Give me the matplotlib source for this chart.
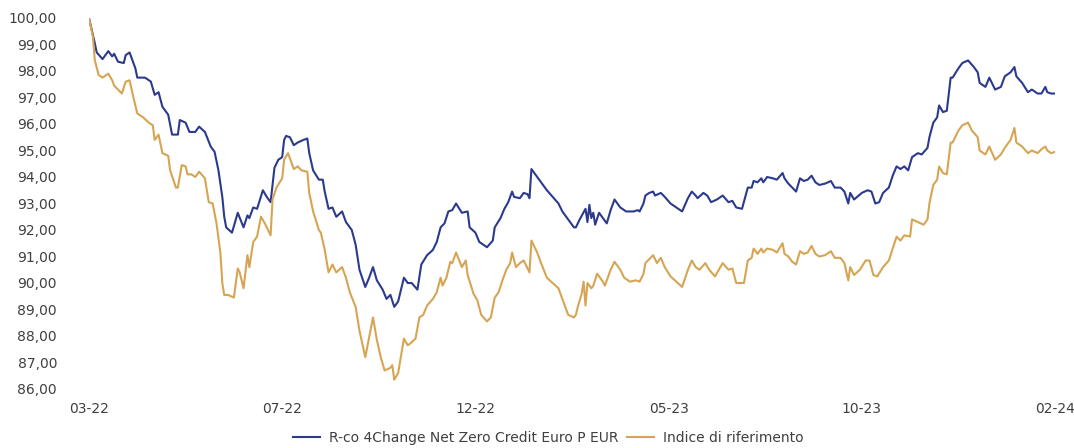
import matplotlib
matplotlib.use("Agg")
from matplotlib import pyplot as plt
from matplotlib.ticker import FuncFormatter

# session index (0 = first day, 500 = last day) and base-100 values
fund_t = [0, 3, 4, 7, 10, 12, 13, 15, 18, 19, 21, 24, 25, 29, 32, 34, 36, 38, 41, 43,
          46, 47, 50, 52, 55, 57, 60, 63, 65, 67, 69, 70, 71, 74, 77, 80, 82, 83, 85, 87,
          90, 92, 94, 96, 98, 100, 101, 102, 104, 106, 108, 111, 113, 114, 116, 119, 121, 122, 124, 126,
          128, 131, 133, 136, 138, 140, 143, 145, 147, 149, 152, 154, 156, 158, 160, 163, 165, 167, 170, 172,
          175, 178, 180, 182, 184, 186, 188, 190, 193, 196, 197, 200, 202, 206, 209, 210, 213, 215, 217, 219,
          220, 223, 225, 227, 228, 229, 232, 234, 237, 240, 243, 245, 248, 251, 252, 254, 257, 258, 259, 260,
          261, 262, 264, 266, 268, 270, 272, 275, 278, 282, 284, 285, 287, 288, 290, 292, 293, 296, 298, 301,
          304, 307, 310, 312, 314, 315, 318, 320, 322, 325, 328, 331, 333, 335, 338, 341, 343, 344, 346, 348,
          349, 351, 354, 356, 359, 360, 362, 364, 366, 368, 370, 372, 374, 376, 378, 381, 384, 386, 389, 391,
          393, 394, 396, 400, 403, 405, 407, 409, 411, 414, 416, 418, 420, 422, 424, 426, 429, 431, 434, 435,
          437, 439, 440, 442, 444, 446, 447, 450, 452, 455, 458, 460, 461, 464, 466, 469, 472, 474, 477, 479,
          480, 483, 486, 488, 491, 493, 495, 496, 498, 500]
fund = [100.0, 99.05, 98.7, 98.45, 98.75, 98.55, 98.65, 98.35, 98.3, 98.6, 98.7, 98.1, 97.75, 97.75, 97.6, 97.1, 97.2, 96.65, 96.35, 95.6,
        95.6, 96.15, 96.05, 95.7, 95.7, 95.9, 95.7, 95.15, 94.95, 94.25, 93.25, 92.5, 92.1, 91.9, 92.65, 92.1, 92.55, 92.45, 92.85, 92.8,
        93.5, 93.25, 93.05, 94.35, 94.65, 94.75, 95.4, 95.55, 95.5, 95.2, 95.3, 95.4, 95.45, 94.9, 94.25, 93.9, 93.9, 93.45, 92.8, 92.85,
        92.5, 92.7, 92.3, 92.0, 91.45, 90.5, 89.85, 90.2, 90.6, 90.1, 89.75, 89.4, 89.55, 89.1, 89.3, 90.2, 90.0, 90.0, 89.75, 90.7,
        91.05, 91.25, 91.55, 92.1, 92.25, 92.7, 92.75, 93.0, 92.65, 92.7, 92.1, 91.9, 91.55, 91.35, 91.6, 92.1, 92.45, 92.8, 93.05, 93.45,
        93.25, 93.2, 93.4, 93.35, 93.2, 94.3, 94.0, 93.8, 93.5, 93.25, 93.0, 92.7, 92.4, 92.1, 92.1, 92.4, 92.8, 92.3, 92.95, 92.45,
        92.65, 92.2, 92.65, 92.45, 92.25, 92.75, 93.15, 92.85, 92.7, 92.7, 92.75, 92.7, 93.0, 93.3, 93.4, 93.45, 93.3, 93.4, 93.25, 93.0,
        92.85, 92.7, 93.2, 93.45, 93.3, 93.2, 93.4, 93.3, 93.05, 93.15, 93.3, 93.05, 93.1, 92.85, 92.8, 93.6, 93.6, 93.85, 93.8, 93.95,
        93.8, 94.0, 93.95, 93.9, 94.15, 93.95, 93.75, 93.6, 93.45, 93.95, 93.85, 93.9, 94.05, 93.8, 93.7, 93.75, 93.85, 93.6, 93.6, 93.45,
        93.0, 93.4, 93.15, 93.4, 93.5, 93.45, 93.0, 93.05, 93.4, 93.6, 94.05, 94.4, 94.3, 94.4, 94.25, 94.75, 94.9, 94.85, 95.1, 95.5,
        96.05, 96.25, 96.7, 96.45, 96.5, 97.75, 97.75, 98.1, 98.3, 98.4, 98.15, 97.95, 97.55, 97.4, 97.75, 97.3, 97.4, 97.8, 97.95, 98.15,
        97.8, 97.55, 97.2, 97.3, 97.15, 97.15, 97.4, 97.2, 97.15, 97.15]

bench_t = [0, 2, 3, 5, 7, 10, 12, 13, 15, 17, 19, 21, 23, 25, 28, 31, 33, 34, 36, 38,
           41, 42, 45, 46, 48, 50, 51, 53, 55, 57, 60, 62, 64, 66, 68, 69, 70, 72, 75, 77,
           78, 80, 82, 83, 85, 87, 89, 91, 94, 95, 97, 100, 101, 103, 105, 106, 108, 110, 113, 114,
           116, 119, 120, 122, 124, 126, 128, 131, 133, 135, 138, 140, 143, 145, 147, 149, 151, 153, 156, 157,
           158, 160, 163, 165, 166, 169, 171, 173, 175, 178, 180, 182, 183, 185, 187, 188, 190, 193, 195, 196,
           199, 201, 203, 206, 208, 210, 212, 214, 216, 218, 219, 221, 223, 225, 227, 228, 229, 232, 234, 237,
           240, 243, 245, 248, 251, 252, 253, 255, 256, 257, 258, 260, 261, 263, 266, 267, 270, 272, 275, 277,
           280, 283, 285, 287, 288, 290, 292, 294, 296, 298, 301, 304, 307, 310, 312, 314, 316, 319, 321, 324,
           326, 328, 331, 333, 335, 339, 341, 343, 344, 346, 348, 349, 351, 354, 356, 359, 360, 362, 364, 366,
           368, 370, 372, 374, 376, 378, 381, 384, 386, 389, 391, 393, 394, 396, 399, 402, 404, 406, 408, 411,
           414, 416, 418, 420, 422, 425, 426, 429, 432, 434, 435, 437, 439, 440, 442, 444, 446, 447, 450, 452,
           455, 457, 460, 461, 464, 466, 469, 472, 474, 477, 479, 480, 483, 486, 488, 491, 493, 495, 496, 498, 500]
bench = [100.0, 99.3, 98.4, 97.85, 97.75, 97.9, 97.65, 97.45, 97.3, 97.15, 97.6, 97.65, 97.0, 96.4, 96.25, 96.05, 95.95, 95.4, 95.6, 94.9,
         94.8, 94.25, 93.6, 93.6, 94.45, 94.4, 94.1, 94.1, 94.0, 94.2, 93.95, 93.05, 93.0, 92.25, 91.15, 90.0, 89.55, 89.55, 89.45, 90.55,
         90.4, 89.8, 91.05, 90.6, 91.55, 91.75, 92.5, 92.25, 91.8, 93.15, 93.6, 93.95, 94.65, 94.9, 94.5, 94.3, 94.4, 94.25, 94.2, 93.4,
         92.7, 92.0, 91.9, 91.25, 90.4, 90.7, 90.4, 90.6, 90.2, 89.65, 89.1, 88.2, 87.2, 87.95, 88.7, 87.85, 87.2, 86.7, 86.8, 86.9,
         86.35, 86.6, 87.9, 87.65, 87.7, 87.9, 88.7, 88.8, 89.15, 89.4, 89.65, 90.2, 89.9, 90.2, 90.8, 90.75, 91.15, 90.6, 90.85, 90.3,
         89.6, 89.35, 88.8, 88.55, 88.7, 89.45, 89.65, 90.1, 90.5, 90.75, 91.15, 90.6, 90.75, 90.85, 90.55, 90.4, 91.6, 91.15, 90.75, 90.2,
         90.0, 89.8, 89.4, 88.8, 88.7, 88.8, 89.1, 89.6, 90.05, 89.15, 90.0, 89.8, 89.9, 90.35, 90.05, 89.9, 90.5, 90.8, 90.5, 90.2,
         90.05, 90.1, 90.05, 90.35, 90.75, 90.9, 91.05, 90.75, 90.95, 90.6, 90.25, 90.05, 89.85, 90.5, 90.85, 90.6, 90.5, 90.75, 90.5, 90.25,
         90.5, 90.75, 90.5, 90.55, 90.0, 90.0, 90.85, 90.95, 91.3, 91.1, 91.3, 91.15, 91.3, 91.25, 91.15, 91.5, 91.1, 91.0, 90.8, 90.7,
         91.2, 91.1, 91.15, 91.4, 91.1, 91.0, 91.05, 91.2, 90.95, 90.95, 90.75, 90.1, 90.6, 90.3, 90.5, 90.85, 90.85, 90.3, 90.25, 90.6,
         90.85, 91.3, 91.75, 91.6, 91.8, 91.75, 92.4, 92.3, 92.2, 92.4, 93.0, 93.7, 93.9, 94.4, 94.15, 94.1, 95.3, 95.3, 95.75, 95.95,
         96.05, 95.75, 95.5, 95.0, 94.85, 95.15, 94.65, 94.85, 95.1, 95.4, 95.85, 95.3, 95.15, 94.9, 95.0, 94.9, 95.05, 95.15, 95.0, 94.9, 94.95]

tick_pos = [0, 100, 200, 300, 400, 500]
tick_labels = ['03-22', '07-22', '12-22', '05-23', '10-23', '02-24']
y_ticks = list(range(86, 101))

fund_name = 'R-co 4Change Net Zero Credit Euro P EUR'
bench_name = 'Indice di riferimento'
blue = '#2b3a8c'
gold = '#d6a553'
txt = '#404040'

fig = plt.figure(figsize=(10.74, 4.48), dpi=100)
ax = fig.add_axes([89 / 1074, 59 / 448, 966 / 1074, 371 / 448])

ax.plot(fund_t, fund, color=blue, lw=1.5, label=fund_name)
ax.plot(bench_t, bench, color=gold, lw=1.5, label=bench_name)

ax.set_xlim(0, 500)
ax.set_ylim(86, 100)
ax.set_xticks(tick_pos)
ax.set_xticklabels(tick_labels)
ax.set_yticks(y_ticks)
ax.yaxis.set_major_formatter(FuncFormatter(lambda v, p: ('%.2f' % v).replace('.', ',')))
ax.tick_params(axis='y', length=0, pad=23, labelsize=10, labelcolor=txt)
ax.tick_params(axis='x', length=0, pad=9, labelsize=10, labelcolor=txt)
for s in ax.spines.values():
    s.set_visible(False)

leg = fig.legend(loc='center', bbox_to_anchor=(548 / 1074, 1 - 438 / 448), ncol=2, frameon=False,
                 fontsize=10, handlelength=2.0, handletextpad=0.6, columnspacing=0.6)
for t in leg.get_texts():
    t.set_color(txt)

fig.savefig('out.png', dpi=100)
